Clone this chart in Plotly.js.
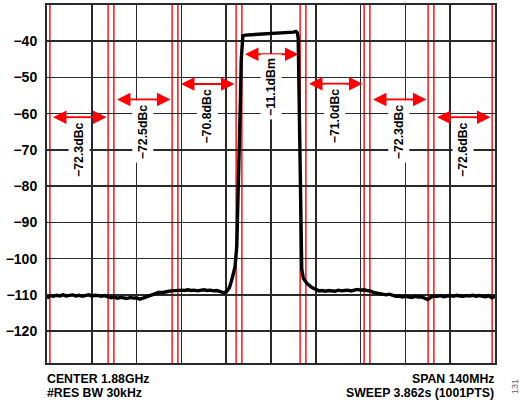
<!DOCTYPE html>
<html>
<head>
<meta charset="utf-8">
<script src="https://cdn.plot.ly/plotly-3.0.1.min.js"></script>
<style>
html,body{margin:0;padding:0;background:#fff;}
#chart{width:521px;height:402px;}
</style>
</head>
<body>
<div id="chart"></div>
<script>
// ---- data (frequency offset from 1.88 GHz centre, MHz; power, dBm) ----
const freqMHz = [
  -70,-69,-68,-67,-66,-65,-64,-63,-62,-61,-60,-59,-58,-57,-56,-55,-54,-53,-52,-51,
  -50,-49,-48,-47,-46,-45,-44,-43,-42,-41,-40,-39,-38,-37,-36,-35,-34,-33,-32,-31,
  -30,-29,-28,-27,-26,-25,-24,-23,-22,-21,-20,-19,-18,-17,-16,-15,-14,-13.5,-13,
  -12.3,-11.8,-11.25,-10.7,-10.2,-9.9,-9.5,-9.3,-9.1,-8.8,-8,-6,-4,-2,0,2,4,6,7,7.8,
  8.2,8.5,8.6,8.75,9.0,9.3,9.6,10.1,11.2,12.7,14.3,
  15,16,17,18,19,20,21,22,23,24,25,26,27,28,29,30,31,32,33,34,35,36,37,38,39,
  40,41,42,43,44,45,46,47,48,49,50,51,52,53,54,55,56,57,58,59,60,61,62,63,64,
  65,66,67,68,69,70
];
const powerDBm = [
  -110.9,-110.2,-110.4,-110.1,-110.3,-110.0,-110.3,-110.2,-110.0,-110.3,-110.1,-110.4,-110.2,-110.0,-110.3,-110.1,-110.2,-110.4,-110.2,-110.5,
  -110.8,-110.6,-110.9,-110.7,-110.8,-111.0,-110.7,-110.9,-110.8,-111.2,-110.9,-110.6,-110.4,-110.0,-109.6,-109.3,-109.4,-109.1,-109.0,-108.9,
  -108.8,-108.9,-108.7,-108.8,-108.6,-108.8,-108.7,-108.9,-108.8,-108.6,-108.8,-108.7,-108.9,-108.8,-109.0,-109.4,-109.2,-108.6,-108.0,
  -106.0,-104.5,-102.3,-96.7,-82.0,-68.0,-54.3,-45.2,-39.5,-38.5,-38.3,-38.2,-38.1,-38.0,-38.0,-37.9,-37.8,-37.7,-37.5,-37.3,
  -37.6,-39.0,-45.0,-60.0,-82.0,-100.0,-102.8,-105.4,-106.8,-107.9,-108.7,
  -108.9,-108.8,-109.0,-108.8,-108.9,-109.0,-108.7,-108.9,-108.8,-108.7,-108.9,-108.6,-108.5,-108.7,-108.6,-108.8,-108.9,-109.3,-109.5,-109.6,-109.8,-110.0,-109.8,-110.2,-110.4,
  -110.3,-110.6,-110.4,-110.5,-110.7,-110.4,-110.6,-110.5,-110.8,-111.3,-110.6,-110.3,-110.4,-110.2,-110.5,-110.3,-110.2,-110.4,-110.1,-110.3,-110.4,-110.2,-110.3,-110.1,-110.4,
  -110.2,-110.3,-110.5,-110.2,-110.8,-110.4
];

// measurement channels
const channelCenters = [-60, -40, -20, 0, 20, 40, 60];
const channelWidth = 18.2;
const channelLevels = [-61.0, -56.1, -51.8, -43.6, -51.7, -56.1, -61.0];
const channelLabels = ["\u221272.3dBc", "\u221272.5dBc", "\u221270.8dBc", "\u221211.1dBm",
                       "\u221271.0dBc", "\u221272.3dBc", "\u221272.6dBc"];

const yTickVals = [-40, -50, -60, -70, -80, -90, -100, -110, -120];
const yTickText = ["\u221240", "\u221250", "\u221260", "\u221270", "\u221280", "\u221290",
                   "\u2212100", "\u2212110", "\u2212120"];

const footLeft = ["CENTER 1.88GHz", "#RES BW 30kHz"];
const footRight = ["SPAN 140MHz", "SWEEP 3.862s (1001PTS)"];

// ---- build ----
const FONT = "Liberation Sans, Arial, Helvetica, sans-serif";
const shapes = [];
const annotations = [];
const half = channelWidth / 2;

channelCenters.forEach((c, i) => {
  [c - half, c + half].forEach(edge => {
    shapes.push({type: "line", xref: "x", yref: "paper", x0: edge, x1: edge, y0: 0, y1: 1,
                 layer: "between", line: {color: "#ff0000", width: 1.4}});
  });
  // double-headed arrow spanning the channel
  annotations.push({
    xref: "x", yref: "y", axref: "x", ayref: "y",
    x: c + half - 0.5, y: channelLevels[i], ax: c - half + 0.5, ay: channelLevels[i],
    text: "", showarrow: true, arrowside: "end+start",
    arrowhead: 2, startarrowhead: 2, arrowsize: 1.35, startarrowsize: 1.35,
    arrowwidth: 2, arrowcolor: "#ff0000", standoff: 0, startstandoff: 0
  });
  // rotated label
  annotations.push({
    xref: "x", yref: "y", x: c, y: channelLevels[i] - 9, showarrow: false,
    text: channelLabels[i], textangle: -90, bgcolor: "#ffffff", borderpad: 3,
    xanchor: "center", yanchor: "middle",
    font: {family: FONT, size: 12.3, color: "#000", weight: "bold"}
  });
});

footLeft.forEach((t, i) => {
  annotations.push({xref: "paper", yref: "paper", x: 0, y: 0, xanchor: "left", yanchor: "top",
    xshift: -2, yshift: -7 - 13.5 * i, showarrow: false, text: t, align: "left",
    font: {family: FONT, size: 12.3, color: "#000", weight: "bold"}});
});
footRight.forEach((t, i) => {
  annotations.push({xref: "paper", yref: "paper", x: 1, y: 0, xanchor: "right", yanchor: "top",
    xshift: 1, yshift: -7 - 13.5 * i, showarrow: false, text: t, align: "right",
    font: {family: FONT, size: 12.3, color: "#000", weight: "bold"}});
});
annotations.push({xref: "paper", yref: "paper", x: 1, y: 0, xanchor: "center", yanchor: "middle",
  xshift: 20, yshift: -24, showarrow: false, text: "131", textangle: -90,
  font: {family: FONT, size: 9, color: "#666"}});

const trace = {
  type: "scatter", mode: "lines", x: freqMHz, y: powerDBm,
  line: {color: "#000", width: 3.4, shape: "linear"}, hoverinfo: "skip"
};

const layout = {
  width: 521, height: 402,
  margin: {l: 47, r: 26, t: 5, b: 39, pad: 0},
  paper_bgcolor: "#fff", plot_bgcolor: "#fff",
  showlegend: false,
  xaxis: {
    range: [-70, 70], tick0: -70, dtick: 14, showticklabels: false,
    showgrid: true, gridcolor: "#2a2a2a", gridwidth: 1.5, zeroline: false,
    showline: true, mirror: true, linecolor: "#2a2a2a", linewidth: 2, ticks: ""
  },
  yaxis: {
    range: [-128.8, -30], tickvals: yTickVals, ticktext: yTickText,
    showgrid: true, gridcolor: "#2a2a2a", gridwidth: 1.5, zeroline: false,
    showline: true, mirror: true, linecolor: "#2a2a2a", linewidth: 2, ticks: "",
    ticklabelstandoff: 5,
    tickfont: {family: FONT, size: 14, color: "#000", weight: "bold"}
  },
  shapes: shapes,
  annotations: annotations
};

Plotly.newPlot("chart", [trace], layout, {staticPlot: true, displayModeBar: false});
</script>
</body>
</html>
